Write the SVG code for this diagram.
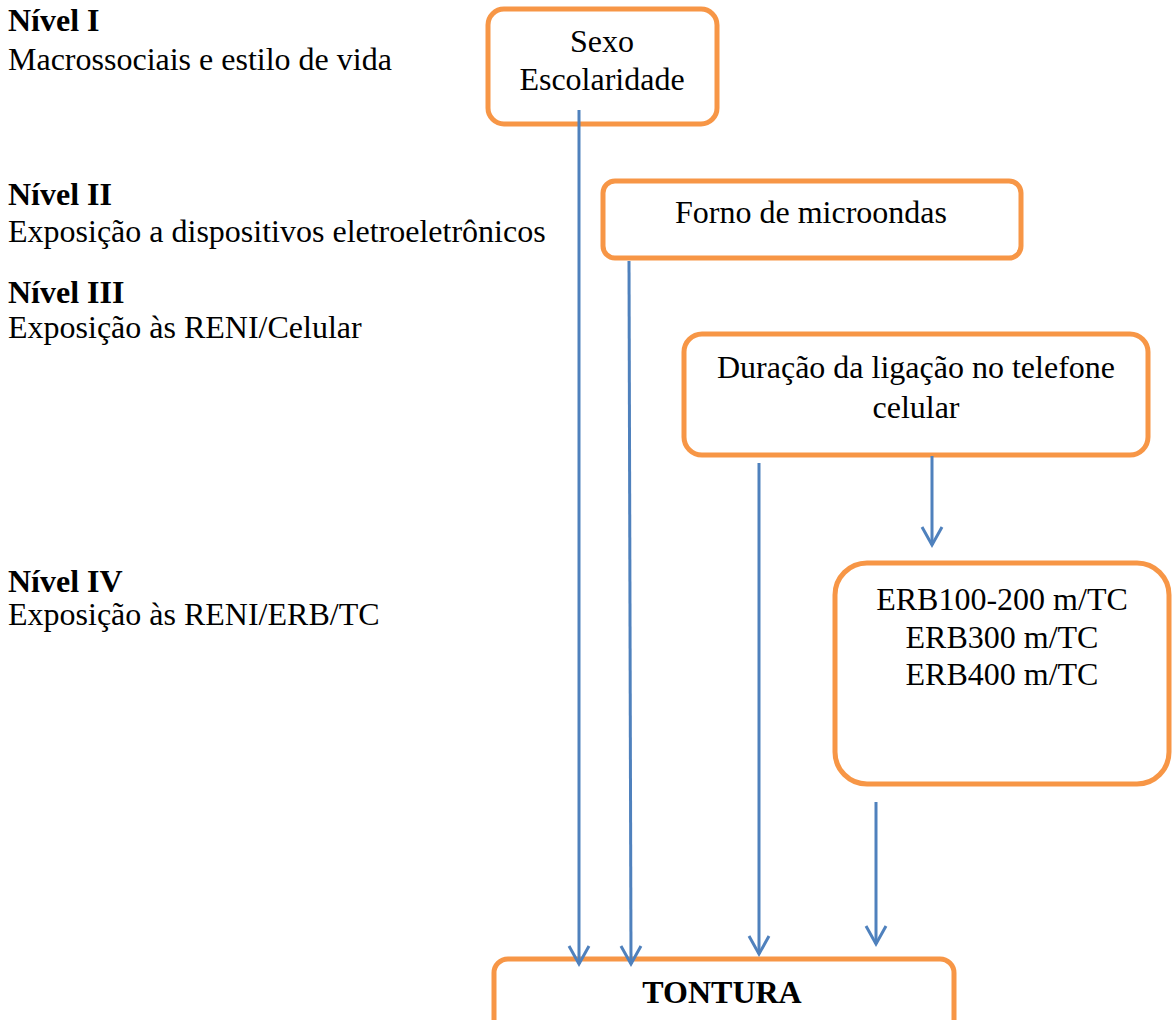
<svg xmlns="http://www.w3.org/2000/svg" width="1172" height="1020" viewBox="0 0 1172 1020">
  <style>
    text { font-family: "Liberation Serif", "Times New Roman", serif; font-size: 32px; fill: #000; }
    .b { font-weight: bold; }
    .c { text-anchor: middle; }
    .box { fill: #fff; stroke: #F79646; stroke-width: 5; }
    .arr { fill: none; stroke: #4F81BD; stroke-width: 3; marker-end: url(#head); }
  </style>
  <defs>
    <!-- open V arrowhead, pointing along the line -->
    <marker id="head" markerUnits="userSpaceOnUse" markerWidth="24" markerHeight="24" refX="18" refY="10" orient="auto" viewBox="-2 -2 24 24">
      <path d="M0 0 L18 10 L0 20" fill="none" stroke="#4F81BD" stroke-width="3"/>
    </marker>
  </defs>

  <rect width="1172" height="1020" fill="#fff"/>

  <!-- level labels -->
  <g id="levels">
    <text class="b" x="8" y="31">Nível I</text>
    <text x="8" y="70">Macrossociais e estilo de vida</text>
    <text class="b" x="8" y="205">Nível II</text>
    <text x="8" y="242">Exposição a dispositivos eletroeletrônicos</text>
    <text class="b" x="8" y="303">Nível III</text>
    <text x="8" y="338">Exposição às RENI/Celular</text>
    <text class="b" x="8" y="592">Nível IV</text>
    <text x="8" y="625">Exposição às RENI/ERB/TC</text>
  </g>

  <g id="n-sexo">
    <rect class="box" x="488" y="9" width="229" height="115" rx="16"/>
    <text class="c" x="602" y="52">Sexo</text>
    <text class="c" x="602" y="90">Escolaridade</text>
  </g>

  <g id="n-forno">
    <rect class="box" x="603" y="181" width="418" height="77" rx="12"/>
    <text class="c" x="811" y="223">Forno de microondas</text>
  </g>

  <g id="n-duracao">
    <rect class="box" x="684" y="334" width="464" height="121" rx="18"/>
    <text class="c" x="916" y="378">Duração da ligação no telefone</text>
    <text class="c" x="916" y="418">celular</text>
  </g>

  <g id="n-erb">
    <rect class="box" x="835" y="563" width="334" height="221" rx="32"/>
    <text class="c" x="1002" y="610">ERB100-200 m/TC</text>
    <text class="c" x="1002" y="648">ERB300 m/TC</text>
    <text class="c" x="1002" y="685">ERB400 m/TC</text>
  </g>

  <g id="n-tontura">
    <rect class="box" x="494" y="959" width="460" height="90" rx="14"/>
    <text class="c b" x="722" y="1003">TONTURA</text>
  </g>

  <!-- connectors, drawn over the boxes -->
  <g id="connectors">
    <line class="arr" x1="579" y1="110" x2="579" y2="964"/>
    <line class="arr" x1="629" y1="261" x2="631" y2="964"/>
    <line class="arr" x1="759" y1="463" x2="759" y2="954"/>
    <line class="arr" x1="932" y1="456" x2="932" y2="545"/>
    <line class="arr" x1="876" y1="802" x2="876" y2="944"/>
  </g>
</svg>
